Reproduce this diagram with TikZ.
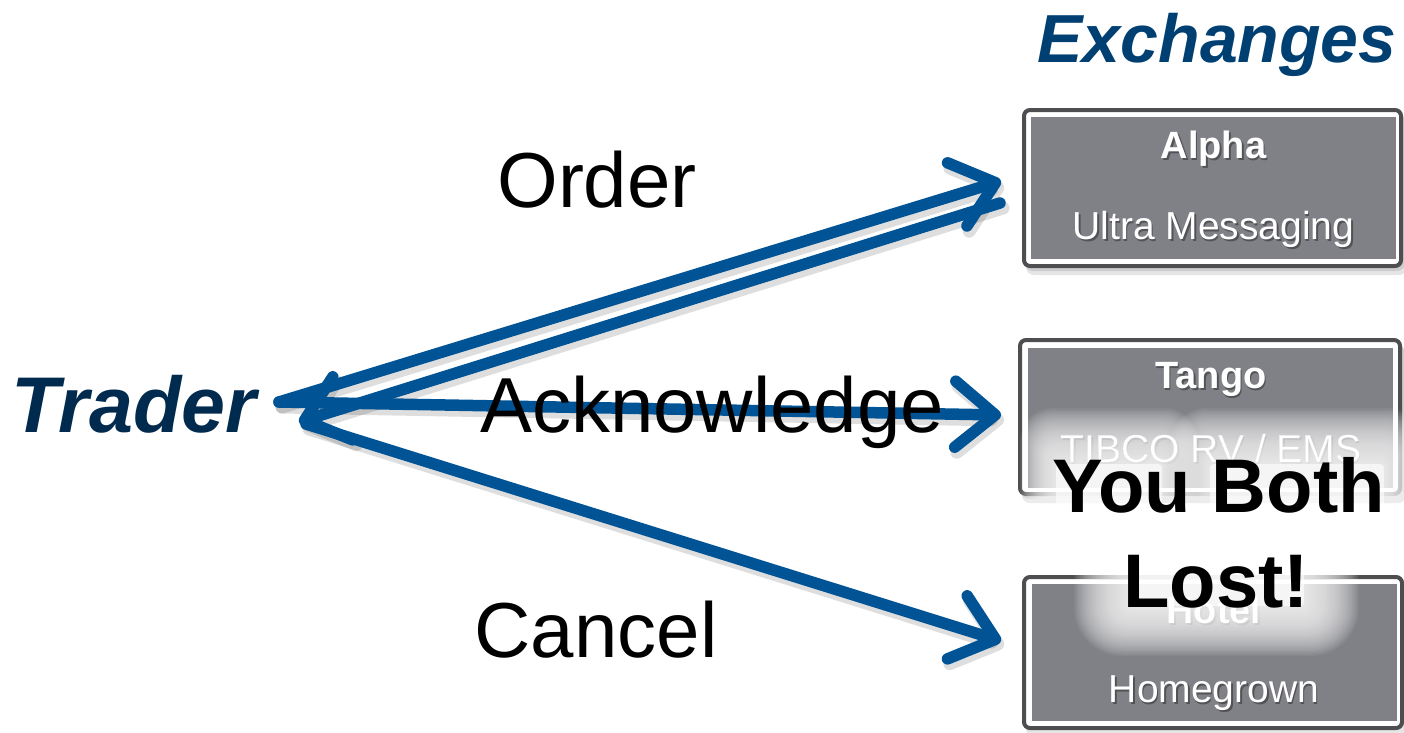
\documentclass[tikz,border=0pt]{standalone}
\usepackage{fontspec}
\setmainfont{Liberation Sans}
\usetikzlibrary{arrows.meta}

\definecolor{flowblue}{RGB}{0,84,150}
\definecolor{tradernavy}{RGB}{0,42,78}
\definecolor{exchnavy}{RGB}{0,63,114}
\definecolor{boxgray}{RGB}{128,129,134}
\definecolor{boxedge}{RGB}{78,78,80}

% white label with a soft dark drop shadow
\newcommand\shadedlabel[4]{%
  \node[#1, text=black, text opacity=0.35] at ([shift={(1.5,2)}]#3) {#4};
  \node[#1] (#2) at (#3) {#4};
}

% soft white halo: core box x1,y1,x2,y2 with reach (sides, up, down)
\newcommand\halo[7]{%
  \foreach \k in {40,39,...,1} {
    \fill[white, opacity=0.05, rounded corners={(#5*\k/40*0.8+4)*1pt}]
      ({#1-#5*\k/40},{#2-#6*\k/40}) rectangle ({#3+#5*\k/40},{#4+#7*\k/40});
  }
  \fill[white, opacity=0.6, rounded corners=4pt] (#1,#2) rectangle (#3,#4);
}

\begin{document}
\begin{tikzpicture}[x=1pt,y=-1pt,
  barb/.tip={Straight Barb[length=40pt,width=66pt,line cap=round,line join=round]},
  flow/.style={draw=flowblue, line width=11.5pt, line cap=round, line join=round, -barb},
  flowshade/.style={draw=black, draw opacity=0.13, line width=13pt, line cap=round, line join=round, -barb},
  msg/.style={font=\fontsize{78}{80}\selectfont, anchor=base, inner sep=0pt},
  side/.style={anchor=base, inner sep=0pt},
  boxframe/.style={draw=boxedge, line width=4pt, fill=white, rounded corners=6pt},
  boxshade/.style={fill=black, fill opacity=0.10, rounded corners=8pt},
  boxface/.style={fill=boxgray},
  boxtitle/.style={font=\fontsize{38}{40}\selectfont\bfseries, text=white, anchor=base, inner sep=0pt},
  boxsub/.style={font=\fontsize{39}{40}\selectfont, text=white, anchor=base, inner sep=0pt},
  verdict/.style={font=\fontsize{76}{80}\selectfont\bfseries, text=black, anchor=base, inner sep=0pt}
]
\useasboundingbox (0,0) rectangle (1404,732);
\fill[white] (0,0) rectangle (1404,732);

% ---- side headings
\node[side, text=tradernavy, font=\fontsize{79}{80}\selectfont\bfseries\itshape] (trader) at (134,432) {Trader};
\node[side, text=exchnavy, font=\fontsize{68}{70}\selectfont\bfseries\itshape] (exchanges) at (1217,62) {Exchanges};

% ---- exchange boxes
% Alpha
\fill[boxshade] (1026,116) rectangle (1407,275);
\fill[boxshade] (1025,113) rectangle (1405,271);
\draw[boxframe] (1024,110) rectangle (1401,266);
\fill[boxface] (1031,117) rectangle (1396,259);
\shadedlabel{boxtitle}{alpha}{1213.5,158}{Alpha}
\shadedlabel{boxsub}{alpha-sub}{1213.5,239}{Ultra Messaging}

% Tango
\fill[boxshade] (1022,346) rectangle (1406,503);
\fill[boxshade] (1021,343) rectangle (1404,499);
\draw[boxframe] (1020,340) rectangle (1400,494);
\fill[boxface] (1028,348) rectangle (1393,488);
\shadedlabel{boxtitle}{tango}{1211,388}{Tango}
\shadedlabel{boxsub}{tango-sub}{1211,462}{TIBCO RV / EMS}

% Hotel
\fill[boxshade] (1026,583) rectangle (1410,737);
\draw[boxframe] (1024,577) rectangle (1402,728);
\fill[boxface] (1032,584) rectangle (1397,721);
\shadedlabel{boxtitle}{hotel}{1214,623}{Hotel}
\shadedlabel{boxsub}{hotel-sub}{1214,702}{Homegrown}

% ---- message flows
\coordinate (tr-out) at (279,402);
\coordinate (tr-in)  at (299,422);
\coordinate (tr-cx)  at (306,424);
\coordinate (al-in)  at (1001,181);
\coordinate (al-out) at (1000,203);
\coordinate (ta-in)  at (1001,415);
\coordinate (ho-in)  at (1001,641);

\draw[flowshade] ([shift={(3,5)}]tr-out) -- ([shift={(3,5)}]al-in);
\draw[flowshade] ([shift={(3,5)}]al-out) -- ([shift={(3,5)}]tr-in);
\draw[flowshade] ([shift={(3,5)}]tr-out) -- ([shift={(3,5)}]ta-in);
\draw[flowshade] ([shift={(3,5)}]tr-cx) -- ([shift={(3,5)}]ho-in);

\draw[flow] (tr-out) -- (al-in);
\draw[flow] (al-out) -- (tr-in);
\draw[flow] (tr-out) -- (ta-in);
\draw[flow] (tr-cx) -- (ho-in);

% ---- message labels
\node[msg] (order) at (597,207) {Order};
\node[msg] (ack)   at (712,432) {Acknowledge};
\node[msg] (cancel) at (596,657) {Cancel};

% ---- halo behind the verdict
\halo{1056}{464}{1162}{512}{36}{56}{30}
\halo{1210}{464}{1384}{512}{40}{56}{30}
\halo{1129}{558}{1304}{606}{55}{30}{50}

\node[verdict] (lost1) at (1219,512) {You Both};
\node[verdict] (lost2) at (1216,607) {Lost!};
\end{tikzpicture}
\end{document}
